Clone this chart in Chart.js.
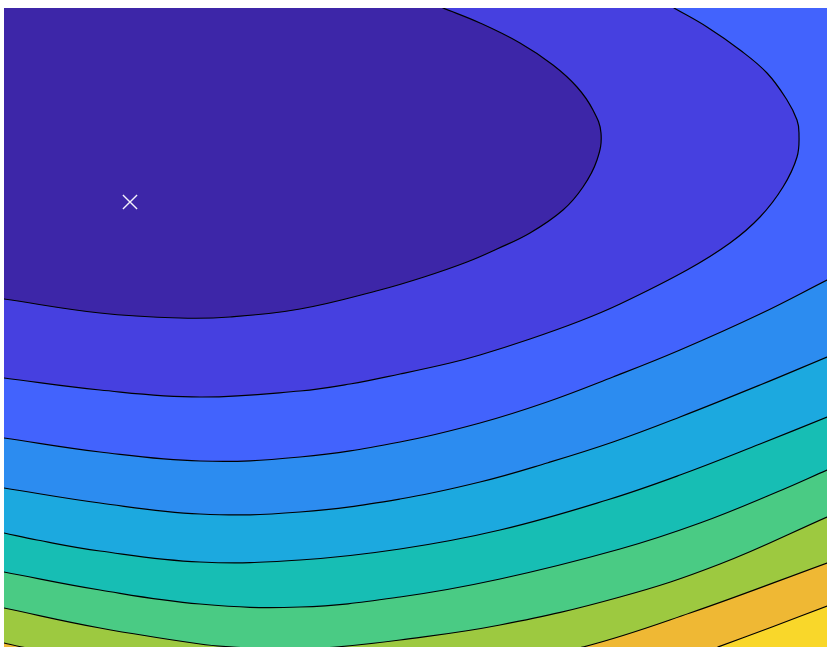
<!DOCTYPE html>
<html>
<head>
<meta charset="utf-8">
<script src="https://cdn.jsdelivr.net/npm/chart.js@4.4.0/dist/chart.umd.min.js"></script>
<style>
html,body{margin:0;padding:0;background:#ffffff;}
#wrap{width:831px;height:654px;position:relative;}
</style>
</head>
<body>
<div id="wrap"><canvas id="c"></canvas></div>
<script>
// ---- data (plot units) ----
const xRange = [0, 823];
const yRange = [0, 639];

// colour of each filled band, lowest level first (parula-like)
const bandColors = ['#3D26A8', '#4640E0', '#4263FD', '#2C8CF0', '#1CA9DF',
                    '#17BEB4', '#4ACB84', '#9DC940', '#EFB834', '#F9D72A'];

// contour lines, innermost (lowest level) first
const contour1 = [[439,639],[476,624],[516,604],[549,582],[573,560],[589,537],[597,514],[593,487],[579,460],[559,437],[526,414],[493,398],[463,385],[420,370],[376,357],[296,338],[226,330],[176,329],[96,334],[0,348]];
const contour2 = [[670,639],[703,620],[736,597],[763,574],[783,547],[793,527],[795,514],[793,490],[779,460],[756,430],[726,404],[683,377],[616,343],[576,326],[526,308],[476,292],[446,284],[396,273],[346,263],[296,256],[196,250],[96,257],[0,269]];
const contour3 = [[0,209],[96,195],[196,186],[296,190],[396,205],[476,224],[543,245],[609,270],[676,297],[756,333],[823,367]];
const contour4 = [[0,159],[96,144],[196,133],[296,135],[396,148],[476,165],[543,184],[609,205],[676,230],[756,262],[823,290]];
const contour5 = [[0,114],[33,107],[96,96],[196,85],[296,87],[396,98],[496,117],[603,147],[676,172],[756,203],[823,230]];
const contour6 = [[0,75],[96,57],[196,43],[296,40],[396,50],[496,68],[616,98],[696,124],[773,155],[823,177]];
const contour7 = [[0,39],[96,19],[196,3],[229,0],[281,-3],[332,0],[396,7],[496,22],[616,50],[716,83],[823,130]];
const contour8 = [[0,4],[18,0],[150,-27],[300,-38],[450,-27],[579,0],[686,34],[823,84]];
const contour9 = [[714,0],[768,20],[823,41]];

// frame corners each lower-level region wraps round outside the plot
const contourCorners = [['TL'],['TL'],['TR','TL'],['TR','TL'],['TR','TL'],['TR','TL'],['TR','TL'],['TR','TL'],['TR','TL','BL']];

const minimumPoint = [{x: 126, y: 445}];

// ---- build polygons for the library ----
const contours = [contour1, contour2, contour3, contour4, contour5, contour6, contour7, contour8, contour9];
const M = 80;
const corners = {
  TL: [xRange[0] - M, yRange[1] + M], TR: [xRange[1] + M, yRange[1] + M],
  BL: [xRange[0] - M, yRange[0] - M], BR: [xRange[1] + M, yRange[0] - M]
};
function outward(p) {
  const x = p[0], y = p[1];
  if (x <= xRange[0]) return [x - M, y];
  if (x >= xRange[1]) return [x + M, y];
  if (y <= yRange[0]) return [x, y - M];
  return [x, y + M];
}
function regionPolygon(pts, via) {
  const first = pts[0], last = pts[pts.length - 1];
  const seq = [outward(first), first, ...pts, last, outward(last), ...via.map(k => corners[k])];
  return seq.map(p => ({x: p[0], y: p[1]}));
}

const datasets = [];
datasets.push({
  data: ['BL','BR','TR','TL'].map(k => ({x: corners[k][0], y: corners[k][1]})),
  fill: 'shape', backgroundColor: bandColors[9], borderColor: 'transparent',
  borderWidth: 0, tension: 0, pointRadius: 0, order: 20, clip: 0
});
for (let k = contours.length - 1; k >= 0; k--) {
  datasets.push({
    data: regionPolygon(contours[k], contourCorners[k]),
    fill: 'shape', backgroundColor: bandColors[k], borderColor: '#000000',
    borderWidth: 1.2, tension: 0.4, pointRadius: 0, order: k + 1, clip: 0
  });
}
datasets.push({
  data: minimumPoint, showLine: false, pointStyle: 'crossRot',
  pointRadius: 10, pointBorderColor: '#F4F2FB', pointBackgroundColor: 'transparent',
  pointBorderWidth: 1.4, order: 0, clip: 0
});

new Chart(document.getElementById('c'), {
  type: 'line',
  data: { datasets },
  options: {
    responsive: true, maintainAspectRatio: false, animation: false, events: [],
    layout: { autoPadding: false, padding: { left: 4, right: 4, top: 8, bottom: 7 } },
    scales: {
      x: { type: 'linear', min: xRange[0], max: xRange[1], display: false },
      y: { type: 'linear', min: yRange[0], max: yRange[1], display: false }
    },
    elements: { line: { capBezierPoints: false } },
    plugins: { legend: { display: false }, tooltip: { enabled: false } }
  }
});
</script>
</body>
</html>
